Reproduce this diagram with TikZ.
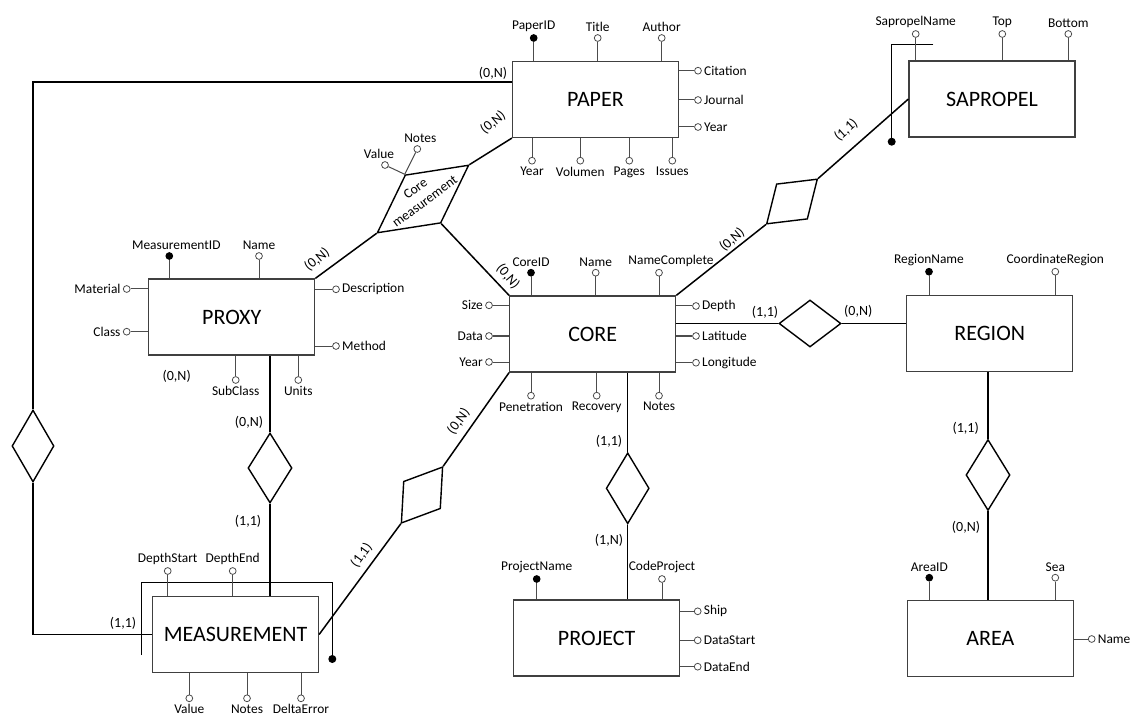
\documentclass[tikz,border=0pt]{standalone}
\usepackage{fontspec}
\setmainfont{Carlito}
\usetikzlibrary{positioning,shapes.geometric,calc}

\begin{document}
\begin{tikzpicture}[
    x=0.5pt, y=-0.5pt,
    entity/.style={rectangle, draw=black!75, line width=0.6pt, minimum width=83pt, minimum height=38pt, font=\fontsize{11}{13}\selectfont},
    rel/.style={diamond, draw, line width=0.7pt, inner sep=0pt},
    attr/.style={circle, draw=black!70, fill=white, line width=0.4pt, inner sep=0pt, minimum size=3.4pt, label distance=1pt},
    key/.style={attr, fill=black, draw=black},
    line/.style={draw, line width=0.75pt},
    attrline/.style={draw=black!70, line width=0.5pt},
    card/.style={font=\fontsize{7}{8}\selectfont, inner sep=0pt},
    every label/.style={font=\fontsize{6.7}{8}\selectfont, inner sep=1pt}
]
\useasboundingbox (0,0) rectangle (1137,722);

% Place entities
\node[entity] (paper) at (595.5,99.5) {PAPER};
\node[entity] (sapropel) at (992,99) {SAPROPEL};
\node[entity] (proxy) at (231.7,317) {PROXY};
\node[entity] (core) at (592.7,334) {CORE};
\node[entity] (region) at (989.7,333.7) {REGION};
\node[entity] (measurement) at (235.5,634.5) {MEASUREMENT};
\node[entity] (project) at (596.7,638) {PROJECT};
\node[entity] (area) at (990.3,638.7) {AREA};

% Place relationships
\node[rel, minimum width=21pt, minimum height=36pt] (leftrel) at (33,446) {};
\node[rel, rotate=36.5, minimum width=57pt, minimum height=30pt] (coremeas) at (423,199) {};
\node[rotate=36.5, align=center, inner sep=0pt, yshift=2.5pt, font=\fontsize{6.8}{8}\selectfont] (coremeaslabel) at (coremeas) {Core\\measurement};
\node[rel, rotate=41.4, minimum width=34pt, minimum height=23.5pt] (saprel) at (792,201.5) {};
\node[rel, minimum width=31pt, minimum height=23.5pt] (regrel) at (810,323.5) {};
\node[rel, minimum width=22pt, minimum height=35.5pt] (arearel) at (988,475) {};
\node[rel, minimum width=21.5pt, minimum height=35.5pt] (projrel) at (627.7,488.3) {};
\node[rel, minimum width=22pt, minimum height=35pt] (proxrel) at (270,468) {};
\node[rel, rotate=53.6, minimum width=35pt, minimum height=23pt] (measrel) at (422,495) {};

% Identifier brackets
\coordinate (mbrA) at (141.7,655);
\coordinate (mbrB) at (332.3,582.7);
\coordinate (mbrC) at (332.3,659);
\coordinate (sbrA) at (933.3,44.3);
\coordinate (sbrB) at (891.7,141.7);

% Attributes of PAPER
\node[key, label=above:PaperID] (paperid) at (533.7,38) {};
\node[attr, label=above:Title] (papertitle) at (597.7,38) {};
\node[attr, label=above:Author] (paperauthor) at (661.7,38) {};
\node[attr, label=right:Citation] (papercitation) at (698,70.7) {};
\node[attr, label=right:Journal] (paperjournal) at (698,100) {};
\node[attr, label=right:Year] (paperyear) at (698,127) {};
\node[attr, label=below:Year] (paperyearb) at (532,160.7) {};
\node[attr, label=below:Volumen] (papervolumen) at (580.3,160.7) {};
\node[attr, label=below:Pages] (paperpages) at (629.3,160.7) {};
\node[attr, label=below:Issues] (paperissues) at (672.3,160.7) {};

% Attributes of Core measurement
\node[attr, label={[xshift=-3pt]above:Value}] (cmvalue) at (385,165) {};
\node[attr, label={[xshift=1.5pt]above:Notes}] (cmnotes) at (417.3,149) {};

% Attributes of SAPROPEL
\node[attr, label=above:SapropelName] (sapname) at (915.7,34) {};
\node[attr, label=above:Top] (saptop) at (1002.3,34) {};
\node[attr, label=above:Bottom] (sapbottom) at (1068.3,34) {};

% Attributes of PROXY
\node[key, label={[xshift=3.5pt]above:MeasurementID}] (proxyid) at (169.3,256) {};
\node[attr, label=above:Name] (proxyname) at (259,256) {};
\node[attr, label=left:Material] (proxymaterial) at (126.7,289) {};
\node[attr, label=left:Class] (proxyclass) at (126.7,331.7) {};
\node[attr, label=right:Description] (proxydesc) at (336,289.3) {};
\node[attr, label=right:Method] (proxymethod) at (336,346) {};
\node[attr, label=below:SubClass] (proxysubclass) at (235.7,380) {};
\node[attr, label=below:Units] (proxyunits) at (298.3,380) {};

% Attributes of CORE
\node[key, label=above:CoreID] (coreid) at (531,272.7) {};
\node[attr, label=above:Name] (corename) at (595.7,272.7) {};
\node[attr, label={[xshift=6pt]above:NameComplete}] (corenamec) at (659,272.7) {};
\node[attr, label=left:Size] (coresize) at (489,305.3) {};
\node[attr, label=left:Data] (coredata) at (489,336) {};
\node[attr, label=left:Year] (coreyear) at (489,362) {};
\node[attr, label=right:Depth] (coredepth) at (696,306) {};
\node[attr, label=right:Latitude] (corelat) at (696,336) {};
\node[attr, label=right:Longitude] (corelon) at (696,362.7) {};
\node[attr, label=below:Penetration] (corepen) at (531,395.7) {};
\node[attr, label=below:Recovery] (corerec) at (596.7,395.7) {};
\node[attr, label=below:Notes] (corenotes) at (659,395.7) {};

% Attributes of REGION and AREA
\node[key, label=above:RegionName] (regionname) at (929,271.7) {};
\node[attr, label=above:CoordinateRegion] (regioncoord) at (1055.3,271.7) {};
\node[key, label=above:AreaID] (areaid) at (929.3,577.7) {};
\node[attr, label=above:Sea] (areasea) at (1055.3,577.7) {};
\node[attr, label=right:Name] (areaname) at (1091.7,639) {};

% Attributes of PROJECT
\node[key, label=above:ProjectName] (projname) at (536.7,579) {};
\node[attr, label=above:CodeProject] (projcode) at (662,579) {};
\node[attr, label=right:Ship] (projship) at (697.7,611.3) {};
\node[attr, label=right:DataStart] (projstart) at (697.7,640.3) {};
\node[attr, label=right:DataEnd] (projend) at (697.7,666.7) {};

% Attributes of MEASUREMENT
\node[attr, label=above:DepthStart] (measstart) at (167.7,571) {};
\node[attr, label=above:DepthEnd] (measend) at (232.7,571) {};
\node[attr, label=below:Value] (measvalue) at (189.3,698.3) {};
\node[attr, label=below:Notes] (measnotes) at (247,698.3) {};
\node[attr, label=below:DeltaError] (measdelta) at (301,698.3) {};

% Cardinalities
\node[card] (c1) at (493,73) {(0,N)};
\node[card, rotate=40] (c2) at (493,122.5) {(0,N)};
\node[card, rotate=40] (c3) at (317,259.5) {(0,N)};
\node[card, rotate=-50] (c4) at (508,276.5) {(0,N)};
\node[card, rotate=41] (c5) at (732,239.5) {(0,N)};
\node[card, rotate=42] (c6) at (846,130) {(1,1)};
\node[card] (c7) at (765,312.7) {(1,1)};
\node[card] (c8) at (858.3,311.7) {(0,N)};
\node[card] (c9) at (965.7,428.3) {(1,1)};
\node[card] (c10) at (966,527.3) {(0,N)};
\node[card] (c11) at (609,441) {(1,1)};
\node[card] (c12) at (609,540.7) {(1,N)};
\node[card] (c13) at (249,422.7) {(0,N)};
\node[card] (c14) at (248,521.7) {(1,1)};
\node[card] (c15) at (176.7,376) {(0,N)};
\node[card] (c16) at (123,623) {(1,1)};
\node[card, rotate=54] (c17) at (458.5,421.5) {(0,N)};
\node[card, rotate=54] (c18) at (361.5,555) {(1,1)};

% Draw relationship edges
\draw[line] ([yshift=8.75pt]paper.west) -| (leftrel.north);
\draw[line] (leftrel.south) |- (measurement.west);
\draw[line] (paper.south west) -- (coremeas.east);
\draw[line] (coremeas.west) -- (proxy.north east);
\draw[line] (coremeas.south) -- (core.north west);
\draw[line] (core.north east) -- (saprel.west);
\draw[line] (saprel.east) -- (sapropel.west);
\draw[line] (regrel.west) -- (regrel.west -| core.east);
\draw[line] (regrel.east) -- (regrel.east -| region.west);
\draw[line] (arearel.north) -- (arearel.north |- region.south);
\draw[line] (arearel.south) -- (arearel.south |- area.north);
\draw[line] (projrel.north) -- (projrel.north |- core.south);
\draw[line] (projrel.south) -- (projrel.south |- project.north);
\draw[line] (proxrel.north) -- (proxrel.north |- proxy.south);
\draw[line] (proxrel.south) -- (proxrel.south |- measurement.north);
\draw[line] (measrel.east) -- (core.south west);
\draw[line] (measrel.west) -- (measurement.east);

% Draw identifier brackets
\draw[line] (mbrA) |- (mbrB) -- (mbrC);
\fill (mbrC) circle (2pt);
\draw[line] (sbrA) -| (sbrB);
\fill (sbrB) circle (2pt);

% Draw attribute edges
\draw[attrline] (paperid) -- (paperid |- paper.north);
\draw[attrline] (papertitle) -- (papertitle |- paper.north);
\draw[attrline] (paperauthor) -- (paperauthor |- paper.north);
\draw[attrline] (papercitation) -- (papercitation -| paper.east);
\draw[attrline] (paperjournal) -- (paperjournal -| paper.east);
\draw[attrline] (paperyear) -- (paperyear -| paper.east);
\draw[attrline] (paperyearb) -- (paperyearb |- paper.south);
\draw[attrline] (papervolumen) -- (papervolumen |- paper.south);
\draw[attrline] (paperpages) -- (paperpages |- paper.south);
\draw[attrline] (paperissues) -- (paperissues |- paper.south);
\draw[attrline] (cmvalue) -- (coremeas.north);
\draw[attrline] (cmnotes) -- (coremeas.north);
\draw[attrline] (sapname) -- (sapname |- sapropel.north);
\draw[attrline] (saptop) -- (saptop |- sapropel.north);
\draw[attrline] (sapbottom) -- (sapbottom |- sapropel.north);
\draw[attrline] (proxyid) -- (proxyid |- proxy.north);
\draw[attrline] (proxyname) -- (proxyname |- proxy.north);
\draw[attrline] (proxymaterial) -- (proxymaterial -| proxy.west);
\draw[attrline] (proxyclass) -- (proxyclass -| proxy.west);
\draw[attrline] (proxydesc) -- (proxydesc -| proxy.east);
\draw[attrline] (proxymethod) -- (proxymethod -| proxy.east);
\draw[attrline] (proxysubclass) -- (proxysubclass |- proxy.south);
\draw[attrline] (proxyunits) -- (proxyunits |- proxy.south);
\draw[attrline] (coreid) -- (coreid |- core.north);
\draw[attrline] (corename) -- (corename |- core.north);
\draw[attrline] (corenamec) -- (corenamec |- core.north);
\draw[attrline] (coresize) -- (coresize -| core.west);
\draw[attrline] (coredata) -- (coredata -| core.west);
\draw[attrline] (coreyear) -- (coreyear -| core.west);
\draw[attrline] (coredepth) -- (coredepth -| core.east);
\draw[attrline] (corelat) -- (corelat -| core.east);
\draw[attrline] (corelon) -- (corelon -| core.east);
\draw[attrline] (corepen) -- (corepen |- core.south);
\draw[attrline] (corerec) -- (corerec |- core.south);
\draw[attrline] (corenotes) -- (corenotes |- core.south);
\draw[attrline] (regionname) -- (regionname |- region.north);
\draw[attrline] (regioncoord) -- (regioncoord |- region.north);
\draw[attrline] (areaid) -- (areaid |- area.north);
\draw[attrline] (areasea) -- (areasea |- area.north);
\draw[attrline] (areaname) -- (areaname -| area.east);
\draw[attrline] (projname) -- (projname |- project.north);
\draw[attrline] (projcode) -- (projcode |- project.north);
\draw[attrline] (projship) -- (projship -| project.east);
\draw[attrline] (projstart) -- (projstart -| project.east);
\draw[attrline] (projend) -- (projend -| project.east);
\draw[attrline] (measstart) -- (measstart |- measurement.north);
\draw[attrline] (measend) -- (measend |- measurement.north);
\draw[attrline] (measvalue) -- (measvalue |- measurement.south);
\draw[attrline] (measnotes) -- (measnotes |- measurement.south);
\draw[attrline] (measdelta) -- (measdelta |- measurement.south);
\end{tikzpicture}
\end{document}
